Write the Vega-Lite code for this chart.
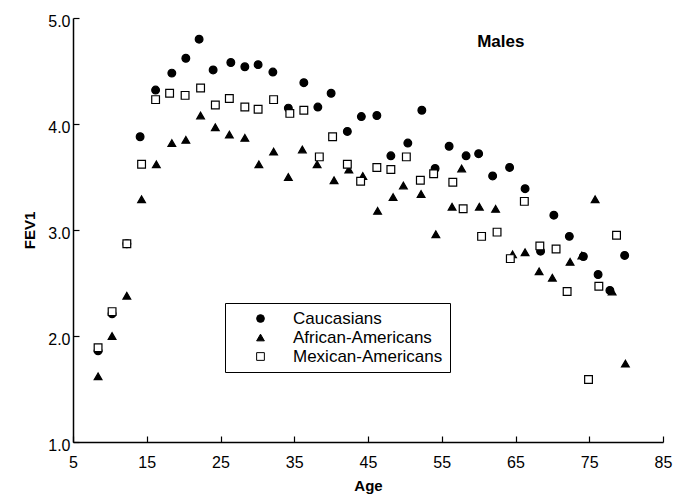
{
  "$schema": "https://vega.github.io/schema/vega-lite/v6.json",
  "autosize": {"type": "none"},
  "width": 590,
  "height": 424,
  "padding": {"left": 73, "top": 18, "right": 10, "bottom": 53},
  "background": "white",
  "config": {
    "view": {"stroke": null},
    "font": "Liberation Sans",
    "axis": {"grid": false, "domainColor": "black", "tickColor": "black", "labelColor": "black", "titleColor": "black", "labelFont": "Liberation Sans", "titleFont": "Liberation Sans", "labelFontSize": 16, "titleFontSize": 15, "titleFontWeight": "bold", "domainWidth": 1.5, "tickWidth": 1.2}
  },
  "layer": [
    {
      "data": {"values": [
        {"Age": 8.4, "FEV1": 1.86, "Group": "Caucasians"},
        {"Age": 10.3, "FEV1": 2.21, "Group": "Caucasians"},
        {"Age": 12.3, "FEV1": 2.87, "Group": "Caucasians"},
        {"Age": 14.1, "FEV1": 3.88, "Group": "Caucasians"},
        {"Age": 16.2, "FEV1": 4.32, "Group": "Caucasians"},
        {"Age": 18.4, "FEV1": 4.48, "Group": "Caucasians"},
        {"Age": 20.3, "FEV1": 4.62, "Group": "Caucasians"},
        {"Age": 22.1, "FEV1": 4.80, "Group": "Caucasians"},
        {"Age": 24.0, "FEV1": 4.51, "Group": "Caucasians"},
        {"Age": 26.4, "FEV1": 4.58, "Group": "Caucasians"},
        {"Age": 28.3, "FEV1": 4.54, "Group": "Caucasians"},
        {"Age": 30.1, "FEV1": 4.56, "Group": "Caucasians"},
        {"Age": 32.1, "FEV1": 4.49, "Group": "Caucasians"},
        {"Age": 34.2, "FEV1": 4.15, "Group": "Caucasians"},
        {"Age": 36.3, "FEV1": 4.39, "Group": "Caucasians"},
        {"Age": 38.2, "FEV1": 4.16, "Group": "Caucasians"},
        {"Age": 40.0, "FEV1": 4.29, "Group": "Caucasians"},
        {"Age": 42.2, "FEV1": 3.93, "Group": "Caucasians"},
        {"Age": 44.1, "FEV1": 4.07, "Group": "Caucasians"},
        {"Age": 46.2, "FEV1": 4.08, "Group": "Caucasians"},
        {"Age": 48.1, "FEV1": 3.70, "Group": "Caucasians"},
        {"Age": 50.4, "FEV1": 3.82, "Group": "Caucasians"},
        {"Age": 52.3, "FEV1": 4.13, "Group": "Caucasians"},
        {"Age": 54.1, "FEV1": 3.58, "Group": "Caucasians"},
        {"Age": 56.0, "FEV1": 3.79, "Group": "Caucasians"},
        {"Age": 58.3, "FEV1": 3.70, "Group": "Caucasians"},
        {"Age": 60.0, "FEV1": 3.72, "Group": "Caucasians"},
        {"Age": 61.9, "FEV1": 3.51, "Group": "Caucasians"},
        {"Age": 64.2, "FEV1": 3.59, "Group": "Caucasians"},
        {"Age": 66.3, "FEV1": 3.39, "Group": "Caucasians"},
        {"Age": 68.4, "FEV1": 2.80, "Group": "Caucasians"},
        {"Age": 70.2, "FEV1": 3.14, "Group": "Caucasians"},
        {"Age": 72.3, "FEV1": 2.94, "Group": "Caucasians"},
        {"Age": 74.2, "FEV1": 2.75, "Group": "Caucasians"},
        {"Age": 76.2, "FEV1": 2.58, "Group": "Caucasians"},
        {"Age": 77.8, "FEV1": 2.43, "Group": "Caucasians"},
        {"Age": 79.8, "FEV1": 2.76, "Group": "Caucasians"},
        {"Age": 8.4, "FEV1": 1.62, "Group": "African-Americans"},
        {"Age": 10.3, "FEV1": 2.00, "Group": "African-Americans"},
        {"Age": 12.3, "FEV1": 2.38, "Group": "African-Americans"},
        {"Age": 14.3, "FEV1": 3.29, "Group": "African-Americans"},
        {"Age": 16.3, "FEV1": 3.62, "Group": "African-Americans"},
        {"Age": 18.4, "FEV1": 3.82, "Group": "African-Americans"},
        {"Age": 20.3, "FEV1": 3.85, "Group": "African-Americans"},
        {"Age": 22.3, "FEV1": 4.08, "Group": "African-Americans"},
        {"Age": 24.3, "FEV1": 3.97, "Group": "African-Americans"},
        {"Age": 26.2, "FEV1": 3.90, "Group": "African-Americans"},
        {"Age": 28.3, "FEV1": 3.87, "Group": "African-Americans"},
        {"Age": 30.2, "FEV1": 3.62, "Group": "African-Americans"},
        {"Age": 32.2, "FEV1": 3.74, "Group": "African-Americans"},
        {"Age": 34.2, "FEV1": 3.50, "Group": "African-Americans"},
        {"Age": 36.1, "FEV1": 3.76, "Group": "African-Americans"},
        {"Age": 38.1, "FEV1": 3.62, "Group": "African-Americans"},
        {"Age": 40.4, "FEV1": 3.47, "Group": "African-Americans"},
        {"Age": 42.4, "FEV1": 3.57, "Group": "African-Americans"},
        {"Age": 44.3, "FEV1": 3.51, "Group": "African-Americans"},
        {"Age": 46.3, "FEV1": 3.18, "Group": "African-Americans"},
        {"Age": 48.4, "FEV1": 3.31, "Group": "African-Americans"},
        {"Age": 49.8, "FEV1": 3.42, "Group": "African-Americans"},
        {"Age": 52.2, "FEV1": 3.34, "Group": "African-Americans"},
        {"Age": 54.2, "FEV1": 2.96, "Group": "African-Americans"},
        {"Age": 56.4, "FEV1": 3.22, "Group": "African-Americans"},
        {"Age": 57.7, "FEV1": 3.58, "Group": "African-Americans"},
        {"Age": 60.1, "FEV1": 3.22, "Group": "African-Americans"},
        {"Age": 62.3, "FEV1": 3.20, "Group": "African-Americans"},
        {"Age": 64.6, "FEV1": 2.77, "Group": "African-Americans"},
        {"Age": 66.3, "FEV1": 2.79, "Group": "African-Americans"},
        {"Age": 68.2, "FEV1": 2.61, "Group": "African-Americans"},
        {"Age": 70.0, "FEV1": 2.55, "Group": "African-Americans"},
        {"Age": 72.4, "FEV1": 2.70, "Group": "African-Americans"},
        {"Age": 74.0, "FEV1": 2.76, "Group": "African-Americans"},
        {"Age": 75.8, "FEV1": 3.29, "Group": "African-Americans"},
        {"Age": 78.1, "FEV1": 2.42, "Group": "African-Americans"},
        {"Age": 79.9, "FEV1": 1.74, "Group": "African-Americans"},
        {"Age": 8.4, "FEV1": 1.89, "Group": "Mexican-Americans"},
        {"Age": 10.3, "FEV1": 2.23, "Group": "Mexican-Americans"},
        {"Age": 12.3, "FEV1": 2.87, "Group": "Mexican-Americans"},
        {"Age": 14.3, "FEV1": 3.62, "Group": "Mexican-Americans"},
        {"Age": 16.2, "FEV1": 4.23, "Group": "Mexican-Americans"},
        {"Age": 18.1, "FEV1": 4.29, "Group": "Mexican-Americans"},
        {"Age": 20.2, "FEV1": 4.27, "Group": "Mexican-Americans"},
        {"Age": 22.3, "FEV1": 4.34, "Group": "Mexican-Americans"},
        {"Age": 24.3, "FEV1": 4.18, "Group": "Mexican-Americans"},
        {"Age": 26.2, "FEV1": 4.24, "Group": "Mexican-Americans"},
        {"Age": 28.3, "FEV1": 4.16, "Group": "Mexican-Americans"},
        {"Age": 30.1, "FEV1": 4.14, "Group": "Mexican-Americans"},
        {"Age": 32.2, "FEV1": 4.23, "Group": "Mexican-Americans"},
        {"Age": 34.4, "FEV1": 4.10, "Group": "Mexican-Americans"},
        {"Age": 36.3, "FEV1": 4.13, "Group": "Mexican-Americans"},
        {"Age": 38.4, "FEV1": 3.69, "Group": "Mexican-Americans"},
        {"Age": 40.2, "FEV1": 3.88, "Group": "Mexican-Americans"},
        {"Age": 42.2, "FEV1": 3.62, "Group": "Mexican-Americans"},
        {"Age": 44.0, "FEV1": 3.46, "Group": "Mexican-Americans"},
        {"Age": 46.2, "FEV1": 3.59, "Group": "Mexican-Americans"},
        {"Age": 48.1, "FEV1": 3.57, "Group": "Mexican-Americans"},
        {"Age": 50.2, "FEV1": 3.69, "Group": "Mexican-Americans"},
        {"Age": 52.1, "FEV1": 3.47, "Group": "Mexican-Americans"},
        {"Age": 53.9, "FEV1": 3.53, "Group": "Mexican-Americans"},
        {"Age": 56.5, "FEV1": 3.45, "Group": "Mexican-Americans"},
        {"Age": 57.9, "FEV1": 3.20, "Group": "Mexican-Americans"},
        {"Age": 60.4, "FEV1": 2.94, "Group": "Mexican-Americans"},
        {"Age": 62.5, "FEV1": 2.98, "Group": "Mexican-Americans"},
        {"Age": 64.3, "FEV1": 2.73, "Group": "Mexican-Americans"},
        {"Age": 66.2, "FEV1": 3.27, "Group": "Mexican-Americans"},
        {"Age": 68.3, "FEV1": 2.85, "Group": "Mexican-Americans"},
        {"Age": 70.5, "FEV1": 2.82, "Group": "Mexican-Americans"},
        {"Age": 72.0, "FEV1": 2.42, "Group": "Mexican-Americans"},
        {"Age": 74.9, "FEV1": 1.59, "Group": "Mexican-Americans"},
        {"Age": 76.3, "FEV1": 2.47, "Group": "Mexican-Americans"},
        {"Age": 78.7, "FEV1": 2.95, "Group": "Mexican-Americans"}
      ]},
      "mark": {"type": "point", "opacity": 1, "strokeWidth": 1.2},
      "encoding": {
        "x": {"field": "Age", "type": "quantitative", "scale": {"domain": [5, 85], "nice": false, "zero": false},
          "axis": {"values": [5, 15, 25, 35, 45, 55, 65, 75, 85], "title": "Age", "tickSize": -6, "labelPadding": 18, "labelFontSize": 16, "titlePadding": 8, "labelFlush": false}},
        "y": {"field": "FEV1", "type": "quantitative", "scale": {"domain": [1, 5], "nice": false, "zero": false},
          "axis": {"values": [1, 2, 3, 4, 5], "format": ".1f", "title": "FEV1", "tickSize": -6, "labelPadding": 9, "labelOffset": 3, "titlePadding": 10, "labelFlush": false}},
        "shape": {"field": "Group", "type": "nominal",
          "scale": {"domain": ["Caucasians", "African-Americans", "Mexican-Americans"], "range": ["circle", "triangle-up", "square"]},
          "legend": {"title": null, "orient": "none", "legendX": 152, "legendY": 285, "strokeColor": "black", "fillColor": "white", "padding": 7, "rowPadding": 1, "labelFontSize": 17, "labelFont": "Liberation Sans", "labelColor": "black", "labelOffset": 24, "symbolOffset": 20, "symbolSize": 40, "symbolStrokeWidth": 1, "labelLimit": 300, "symbolStrokeColor": "black"}},
        "fill": {"field": "Group", "type": "nominal",
          "scale": {"domain": ["Caucasians", "African-Americans", "Mexican-Americans"], "range": ["black", "black", "white"]}},
        "size": {"field": "Group", "type": "nominal",
          "scale": {"domain": ["Caucasians", "African-Americans", "Mexican-Americans"], "range": [60, 60, 75]}},
        "color": {"value": "black"}
      }
    },
    {
      "data": {"values": [{"label": "Males", "Age": 63, "FEV1": 4.77}]},
      "mark": {"type": "text", "fontWeight": "bold", "fontSize": 17, "font": "Liberation Sans", "color": "black"},
      "encoding": {
        "x": {"field": "Age", "type": "quantitative"},
        "y": {"field": "FEV1", "type": "quantitative"},
        "text": {"field": "label"}
      }
    }
  ]
}
